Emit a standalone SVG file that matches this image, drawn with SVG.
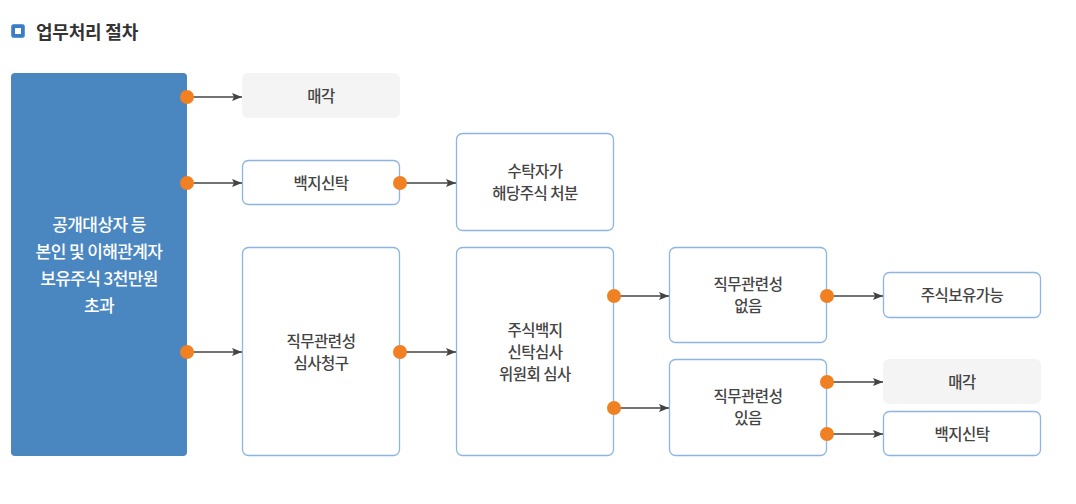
<svg xmlns="http://www.w3.org/2000/svg" width="1076" height="504" viewBox="0 0 1076 504">
<style>
text{font-family:"Noto Sans CJK KR","Noto Sans",sans-serif;}
.t{font-size:15.5px;fill:#444;font-weight:500;text-anchor:middle;letter-spacing:-0.5px;}
.w{font-size:17px;fill:#fff;font-weight:500;text-anchor:middle;letter-spacing:-0.6px;}
.box{fill:#fff;stroke:#8db5e3;stroke-width:1.3;}
.gray{fill:#f4f4f4;}
.dot{fill:#f08021;}
.ln{stroke:#444;stroke-width:1.3;fill:none;marker-end:url(#ah);}
</style>
<defs>
<marker id="ah" viewBox="0 0 10 10" refX="10" refY="5" markerWidth="10" markerHeight="10" markerUnits="userSpaceOnUse" orient="auto">
<path d="M0,1 L10,5 L0,9 L2,5 Z" fill="#444"/>
</marker>
</defs>
<rect width="1076" height="504" fill="#fff"/>
<g id="title">
<rect x="11.5" y="24.5" width="13" height="13" rx="2" fill="#3d7cc5" stroke="#5a9be0"/>
<rect x="15" y="28" width="6" height="6" fill="#fff"/>
<text x="36" y="39" font-size="18" font-weight="700" fill="#333" letter-spacing="-0.2">업무처리 절차</text>
</g>
<g id="source">
<rect x="11" y="73" width="176" height="383" rx="4" fill="#4a87c1"/>
<text class="w" x="99" y="231">공개대상자 등</text>
<text class="w" x="99" y="258">본인 및 이해관계자</text>
<text class="w" x="99" y="285">보유주식 3천만원</text>
<text class="w" x="99" y="312">초과</text>
</g>
<g id="sell1">
<rect class="gray" x="242" y="73" width="158" height="45" rx="6"/>
<text class="t" x="321" y="101.5">매각</text>
</g>
<g id="trust1">
<rect class="box" x="242.5" y="160.5" width="157" height="44" rx="6"/>
<text class="t" x="321" y="188.5">백지신탁</text>
</g>
<g id="trustee">
<rect class="box" x="456.5" y="133.5" width="157" height="97" rx="6"/>
<text class="t" x="535" y="176.5">수탁자가</text>
<text class="t" x="535" y="198.5">해당주식 처분</text>
</g>
<g id="request">
<rect class="box" x="242.5" y="247.5" width="157" height="208" rx="6"/>
<text class="t" x="321" y="346.5">직무관련성</text>
<text class="t" x="321" y="368.5">심사청구</text>
</g>
<g id="committee">
<rect class="box" x="456.5" y="247.5" width="157" height="208" rx="6"/>
<text class="t" x="535" y="335.5">주식백지</text>
<text class="t" x="535" y="357.5">신탁심사</text>
<text class="t" x="535" y="379.5">위원회 심사</text>
</g>
<g id="norel">
<rect class="box" x="669.5" y="247.5" width="157" height="95" rx="6"/>
<text class="t" x="748" y="289.5">직무관련성</text>
<text class="t" x="748" y="311.5">없음</text>
</g>
<g id="rel">
<rect class="box" x="669.5" y="359.5" width="157" height="96" rx="6"/>
<text class="t" x="748" y="401.5">직무관련성</text>
<text class="t" x="748" y="423.5">있음</text>
</g>
<g id="keep">
<rect class="box" x="883.5" y="272.5" width="157" height="45" rx="6"/>
<text class="t" x="962" y="300.5">주식보유가능</text>
</g>
<g id="sell2">
<rect class="gray" x="883" y="359" width="158" height="45" rx="6"/>
<text class="t" x="962" y="387.5">매각</text>
</g>
<g id="trust2">
<rect class="box" x="883.5" y="411.5" width="157" height="44" rx="6"/>
<text class="t" x="962" y="439.5">백지신탁</text>
</g>
<g id="connectors">
<path class="ln" d="M187,97 H242"/>
<path class="ln" d="M187,183 H242"/>
<path class="ln" d="M187,352 H242"/>
<path class="ln" d="M400,183 H456"/>
<path class="ln" d="M400,352 H456"/>
<path class="ln" d="M614,296 H669"/>
<path class="ln" d="M614,408 H669"/>
<path class="ln" d="M827,296 H883"/>
<path class="ln" d="M827,382 H883"/>
<path class="ln" d="M827,434 H883"/>
<circle class="dot" cx="187" cy="97" r="7"/>
<circle class="dot" cx="187" cy="183" r="7"/>
<circle class="dot" cx="187" cy="352" r="7"/>
<circle class="dot" cx="400" cy="183" r="7"/>
<circle class="dot" cx="400" cy="352" r="7"/>
<circle class="dot" cx="614" cy="296" r="7"/>
<circle class="dot" cx="614" cy="408" r="7"/>
<circle class="dot" cx="827" cy="296" r="7"/>
<circle class="dot" cx="827" cy="382" r="7"/>
<circle class="dot" cx="827" cy="434" r="7"/>
</g>
</svg>
